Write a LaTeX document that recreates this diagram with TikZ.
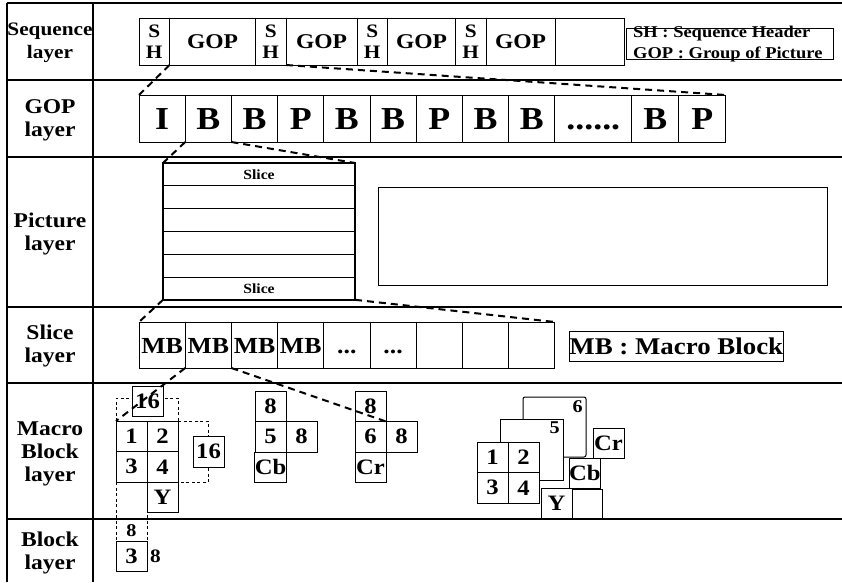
\documentclass[tikz,border=0pt]{standalone}
\usepackage{fontspec}
\setmainfont{Liberation Serif}[FakeStretch=1.12]
\usetikzlibrary{positioning}

\newcommand{\fsz}[2]{\fontsize{#1}{#2}\selectfont\bfseries}

\begin{document}
\begin{tikzpicture}[
	x=1pt, y=-1pt,
	node distance=0pt,
	layerline/.style={line width=1.6pt},
	layername/.style={align=center, font=\fsz{21}{23}},
	cell/.style={draw, line width=1pt, fill=white, inner sep=0pt, outer sep=0pt},
	seqcell/.style={cell, minimum height=47pt, font=\fsz{21}{21}},
	shcell/.style={seqcell, minimum width=30.5pt, align=center, font=\fsz{19}{21}},
	gopcell/.style={cell, minimum width=46.2pt, minimum height=47pt, text height=22pt, text depth=0pt, font=\fsz{32}{32}},
	slicecell/.style={cell, minimum width=192pt, minimum height=22.8pt, font=\fsz{14}{14}},
	mbcell/.style={cell, minimum width=46.2pt, minimum height=46pt, text height=16pt, text depth=0pt, font=\fsz{23}{23}},
	blkcell/.style={cell, minimum width=31pt, minimum height=30.5pt, font=\fsz{22}{22}},
	keybox/.style={draw, line width=0.8pt, inner sep=0pt},
	keytext/.style={anchor=base west, inner sep=0pt, font=\fsz{16.5}{16.5}},
	zoomline/.style={line width=2pt, dash pattern=on 7pt off 5pt},
	guide/.style={line width=1pt, dash pattern=on 3pt off 2.5pt}
	]
	\useasboundingbox (0,0) rectangle (842,582);

	\draw[layerline] (7,3) -- (842,3) (7,3) -- (7,582) (93,3) -- (93,582);
	\draw[layerline] (7,80) -- (842,80) (7,157) -- (842,157) (7,307) -- (842,307)
		(7,383) -- (842,383) (7,519) -- (842,519);

	\node[layername, font=\fsz{19}{23}] (seqlayer) at (50,43) {Sequence\\layer};
	\node[layername] (goplayer) at (50,120) {GOP\\layer};
	\node[layername] (piclayer) at (50,234) {Picture\\layer};
	\node[layername] (slicelayer) at (50,346) {Slice\\layer};
	\node[layername] (mblayer) at (50,454) {Macro\\Block\\layer};
	\node[layername] (blklayer) at (50,553) {Block\\layer};

	\node[shcell, anchor=north west] (sh1) at (139,18) {S\\H};
	\node[seqcell, minimum width=86pt, right=of sh1] (gop1) {GOP};
	\node[shcell, right=of gop1] (sh2) {S\\H};
	\node[seqcell, minimum width=71pt, right=of sh2] (gop2) {GOP};
	\node[shcell, right=of gop2] (sh3) {S\\H};
	\node[seqcell, minimum width=68pt, right=of sh3] (gop3) {GOP};
	\node[shcell, right=of gop3] (sh4) {S\\H};
	\node[seqcell, minimum width=69pt, right=of sh4] (gop4) {GOP};
	\node[seqcell, minimum width=69pt, right=of gop4] (seqend) {};

	\node[keybox, minimum width=207pt, minimum height=31pt, anchor=north west] (seqkey) at (626,28) {};
	\node[keytext] (keysh) at (633,37) {SH : Sequence Header};
	\node[keytext] (keygop) at (633,58) {GOP : Group of Picture};

	\node[gopcell, anchor=north west] (g1) at (139,95) {I};
	\node[gopcell, right=of g1] (g2) {B};
	\node[gopcell, right=of g2] (g3) {B};
	\node[gopcell, right=of g3] (g4) {P};
	\node[gopcell, right=of g4] (g5) {B};
	\node[gopcell, right=of g5] (g6) {B};
	\node[gopcell, right=of g6] (g7) {P};
	\node[gopcell, right=of g7] (g8) {B};
	\node[gopcell, right=of g8] (g9) {B};
	\node[gopcell, minimum width=77pt, right=of g9] (g10) {......};
	\node[gopcell, minimum width=47pt, right=of g10] (g11) {B};
	\node[gopcell, minimum width=47pt, right=of g11] (g12) {P};

	\node[slicecell, anchor=north west] (sl1) at (163,163) {Slice};
	\node[slicecell, below=of sl1] (sl2) {};
	\node[slicecell, below=of sl2] (sl3) {};
	\node[slicecell, below=of sl3] (sl4) {};
	\node[slicecell, below=of sl4] (sl5) {};
	\node[slicecell, below=of sl5] (sl6) {Slice};
	\draw[line width=1.6pt] (sl1.north west) rectangle (sl6.south east);
	\node[cell, minimum width=449pt, minimum height=98pt, anchor=north west] (picframe) at (378,187) {};

	\node[mbcell, anchor=north west] (mb1) at (139,322) {MB};
	\node[mbcell, right=of mb1] (mb2) {MB};
	\node[mbcell, right=of mb2] (mb3) {MB};
	\node[mbcell, right=of mb3] (mb4) {MB};
	\node[mbcell, right=of mb4] (mb5) {...};
	\node[mbcell, right=of mb5] (mb6) {...};
	\node[mbcell, right=of mb6] (mb7) {};
	\node[mbcell, right=of mb7] (mb8) {};
	\node[mbcell, right=of mb8] (mb9) {};
	\node[keybox, minimum width=210pt, minimum height=30pt, font=\fsz{24}{24}, anchor=north west] (mbkey) at (569,331) {MB : Macro Block};

	\node[blkcell, anchor=north west] (y1) at (116,421) {1};
	\node[blkcell, right=of y1] (y2) {2};
	\node[blkcell, below=of y1] (y3) {3};
	\node[blkcell, below=of y2] (y4) {4};
	\node[blkcell, below=of y4] (ylab) {Y};
	\draw[guide] (y1.north west) -- ++(0,-23) -| (y2.north east);
	\draw[guide] (y2.north east) -- ++(30,0) |- (y4.south east);
	\draw[guide] (y3.south west) -- ++(0,59);
	\draw[guide] (y3.south east) -- ++(0,59);
	\node[blkcell, minimum height=30pt] (ytop) at (147.5,401) {16};
	\node[blkcell, minimum height=31pt] (yside) at (208.5,451.5) {16};

	\node[blkcell, anchor=north west] (cb8) at (255,391) {8};
	\node[blkcell, below=of cb8] (cb5) {5};
	\node[blkcell, right=of cb5] (cbw) {8};
	\node[blkcell, below=of cb5] (cblab) {Cb};

	\node[blkcell, anchor=north west] (cr8) at (355,391) {8};
	\node[blkcell, below=of cr8] (cr6) {6};
	\node[blkcell, right=of cr6] (crw) {8};
	\node[blkcell, below=of cr6] (crlab) {Cr};

	\node[cell, minimum width=63pt, minimum height=60pt, rounded corners=2pt, anchor=north west] (plane6) at (523,397) {};
	\node[anchor=north east, inner sep=3pt, font=\fsz{18}{18}] (num6) at (plane6.north east) {6};
	\node[cell, minimum width=63pt, minimum height=61pt, anchor=north west] (plane5) at (500,419) {};
	\node[anchor=north east, inner sep=3pt, font=\fsz{18}{18}] (num5) at (plane5.north east) {5};
	\node[blkcell, anchor=north west] (mcr) at (593,428) {Cr};
	\node[blkcell, minimum height=29pt, anchor=north west] (mfoot) at (571,489) {};
	\node[blkcell, anchor=north west] (mcb) at (569,458) {Cb};
	\node[blkcell, anchor=north west] (m1) at (477,442) {1};
	\node[blkcell, right=of m1] (m2) {2};
	\node[blkcell, below=of m1] (m3) {3};
	\node[blkcell, below=of m2] (m4) {4};
	\node[blkcell, anchor=north west] (my) at (541,488) {Y};

	\node[blkcell, minimum height=30pt, anchor=north west] (b3) at (116,541) {3};
	\node[inner sep=0pt, above=4pt of b3, font=\fsz{18}{18}] (b8top) {8};
	\node[inner sep=0pt, right=3pt of b3, font=\fsz{19}{19}] (b8side) {8};

	\draw[zoomline] (gop1.south west) -- (g1.north west);
	\draw[zoomline] (sh2.south east) -- (g12.north east);
	\draw[zoomline] (g2.south west) -- (sl1.north west);
	\draw[zoomline] (g2.south east) -- (sl1.north east);
	\draw[zoomline] (sl6.south west) -- (mb1.north west);
	\draw[zoomline] (sl6.south east) -- (mb9.north east);
	\draw[zoomline] (mb2.south west) -- (y1.north west);
	\draw[zoomline] (mb2.south east) -- (cr6.north east);
\end{tikzpicture}
\end{document}
